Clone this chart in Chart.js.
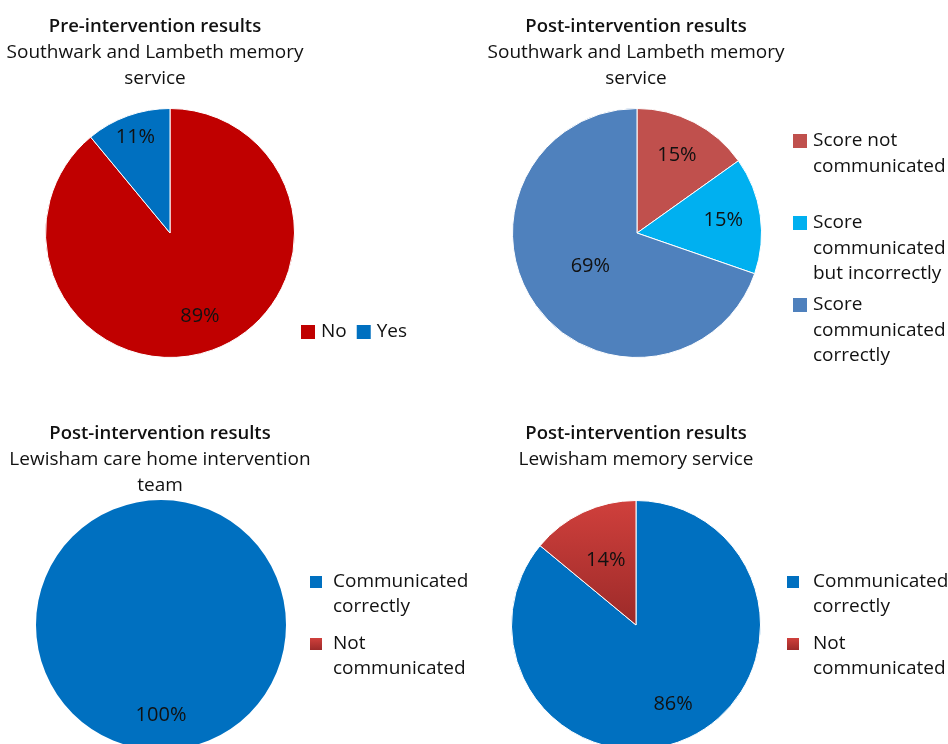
<!DOCTYPE html>
<html>
<head>
<meta charset="utf-8">
<script src="https://cdn.jsdelivr.net/npm/chart.js@4.4.0/dist/chart.umd.min.js"></script>
<style>
  html, body { margin: 0; padding: 0; background: #fff; }
  body { width: 948px; height: 744px; position: relative; overflow: hidden; }
  canvas { position: absolute; }
</style>
</head>
<body>
<canvas id="pre-sl" width="520" height="372" style="left:-105px;top:0"></canvas>
<canvas id="post-sl" width="624" height="372" style="left:324px;top:0"></canvas>
<canvas id="post-care" width="620" height="380" style="left:-150px;top:372px"></canvas>
<canvas id="post-lew" width="624" height="380" style="left:324px;top:372px"></canvas>
<script>
// data
var preLabels = ['No', 'Yes'];
var preValues = [89, 11];

var postSLLabels = [['Score not', 'communicated'], ['Score', 'communicated', 'but incorrectly'], ['Score', 'communicated', 'correctly']];
var postSLValues = [15, 15, 69];

var careLabels = [['Communicated', 'correctly'], ['Not', 'communicated']];
var careValues = [100, 0];

var lewLabels = [['Communicated', 'correctly'], ['Not', 'communicated']];
var lewValues = [86, 14];

var FONT = "'Open Sans', 'DejaVu Sans', sans-serif";
var TEXT = '#111';
var redTop = '#D0403C', redBottom = '#9C2A29';

Chart.defaults.font.family = FONT;
Chart.defaults.color = TEXT;

function vGrad(ctx, y0, y1, c0, c1) {
    var g = ctx.createLinearGradient(0, y0, 0, y1);
    g.addColorStop(0, c0);
    g.addColorStop(1, c1);
    return g;
}

// red slice, lighter at the rim and darker towards the middle
function redSlice(c) {
    var a = c.chart.chartArea;
    if (!a) return redTop;
    return vGrad(c.chart.ctx, a.top, (a.top + a.bottom) / 2, redTop, redBottom);
}

// move the pie sideways from the title centre
var shiftPie = {
    id: 'shiftPie',
    afterLayout: function(chart, args, o) {
        if (!o.dx) return;
        chart.chartArea.left += o.dx;
        chart.chartArea.right += o.dx;
    }
};

// percent labels inside the slices
var sliceLabels = {
    id: 'sliceLabels',
    afterDatasetsDraw: function(chart, args, opts) {
        var ctx = chart.ctx;
        var meta = chart.getDatasetMeta(0);
        var data = chart.data.datasets[0].data;
        ctx.save();
        ctx.font = '20px ' + FONT;
        ctx.fillStyle = TEXT;
        ctx.textAlign = 'center';
        ctx.textBaseline = 'middle';
        meta.data.forEach(function(arc, i) {
            if (!data[i]) return;
            var p = arc.getProps(['x', 'y', 'startAngle', 'endAngle', 'outerRadius'], true);
            var mid = (p.startAngle + p.endAngle) / 2;
            var d = p.outerRadius * opts.fractions[i];
            ctx.fillText(data[i] + '%', p.x + Math.cos(mid) * d, p.y + Math.sin(mid) * d);
        });
        ctx.restore();
    }
};

// legend beside the pie, items either in a row or stacked
var sideLegend = {
    id: 'sideLegend',
    afterDraw: function(chart, args, o) {
        var ctx = chart.ctx;
        var labels = chart.data.labels;
        var lh = o.lineHeight || 25;
        ctx.save();
        ctx.font = '19px ' + FONT;
        ctx.textBaseline = 'middle';
        var x = o.x, y = o.y;
        labels.forEach(function(lab, i) {
            var lines = [].concat(lab);
            var sw = o.swatches[i];
            ctx.fillStyle = Array.isArray(sw) ? vGrad(ctx, y - o.box / 2, y + o.box / 2, sw[0], sw[1]) : sw;
            ctx.fillRect(x, y - o.box / 2, o.box, o.box);
            ctx.fillStyle = TEXT;
            var w = 0;
            lines.forEach(function(t, k) {
                ctx.fillText(t, x + o.box + o.gap, y + k * lh);
                w = Math.max(w, ctx.measureText(t).width);
            });
            if (o.row) x += o.box + o.gap + w + o.spacing;
            else y += o.step;
        });
        ctx.restore();
    }
};

function makePie(id, labels, values, colors, opt) {
    return new Chart(document.getElementById(id), {
        type: 'pie',
        data: {
            labels: labels,
            datasets: [{
                data: values,
                backgroundColor: function(c) {
                    var col = colors[c.dataIndex];
                    return typeof col === 'function' ? col(c) : col;
                },
                borderColor: '#fff',
                borderWidth: opt.border === undefined ? 1 : opt.border
            }]
        },
        options: {
            responsive: false,
            animation: false,
            layout: { padding: { left: 0, right: 0, top: 0, bottom: opt.bottom } },
            plugins: {
                title: {
                    display: true, text: opt.title, color: TEXT,
                    font: { size: 18.5, weight: '600', lineHeight: '26px' },
                    padding: { top: opt.titleTop, bottom: 0 }
                },
                subtitle: {
                    display: true, text: opt.sub, color: TEXT,
                    font: { size: 19, lineHeight: '26px' },
                    padding: { top: 0, bottom: opt.subBottom }
                },
                legend: { display: false },
                tooltip: { enabled: false },
                shiftPie: { dx: opt.dx || 0 },
                sliceLabels: { fractions: opt.fractions },
                sideLegend: opt.legend
            }
        },
        plugins: [shiftPie, sliceLabels, sideLegend]
    });
}

makePie('pre-sl', preLabels, preValues, ['#C00000', '#0070C0'], {
    title: 'Pre-intervention results',
    sub: ['Southwark and Lambeth memory', 'service'],
    titleTop: 14, subBottom: 16, bottom: 14, dx: 15,
    fractions: [0.71, 0.82],
    legend: { row: true, x: 406, y: 332, box: 14, gap: 6, spacing: 10, swatches: ['#C00000', '#0070C0'] }
});

makePie('post-sl', postSLLabels, postSLValues, ['#C0504D', '#00B0F0', '#4F81BD'], {
    title: 'Post-intervention results',
    sub: ['Southwark and Lambeth memory', 'service'],
    titleTop: 14, subBottom: 16, bottom: 14, dx: 1,
    fractions: [0.70, 0.70, 0.46],
    legend: { x: 469, y: 141, box: 14, gap: 6, lineHeight: 25.5, step: 82, swatches: ['#C0504D', '#00B0F0', '#4F81BD'] }
});

makePie('post-care', careLabels, careValues, ['#0070C0', redSlice], {
    title: 'Post-intervention results',
    sub: ['Lewisham care home intervention', 'team'],
    titleTop: 49, subBottom: 1, bottom: 2, dx: 1,
    border: 0,
    fractions: [0.72, 0.5],
    legend: { x: 460, y: 210, box: 12, gap: 11, lineHeight: 25, step: 62, swatches: ['#0070C0', [redTop, redBottom]] }
});

makePie('post-lew', lewLabels, lewValues, ['#0070C0', redSlice], {
    title: 'Post-intervention results',
    sub: 'Lewisham memory service',
    titleTop: 49, subBottom: 27, bottom: 2,
    fractions: [0.70, 0.57],
    legend: { x: 463, y: 210, box: 12, gap: 14, lineHeight: 25, step: 62, swatches: ['#0070C0', [redTop, redBottom]] }
});
</script>
</body>
</html>
